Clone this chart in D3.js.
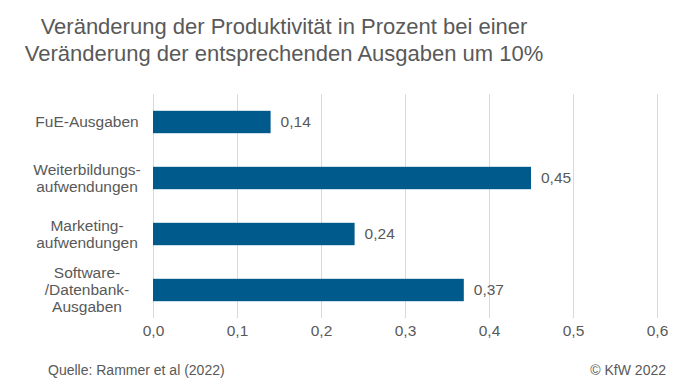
<!DOCTYPE html>
<html>
<head>
<meta charset="utf-8">
<style>
html, body { margin: 0; padding: 0; background: #fff; }
svg text { font-family: "Liberation Sans", Arial, sans-serif; fill: #595959; }
</style>
</head>
<body>
<div id="chart"></div>
<script src="https://cdn.jsdelivr.net/npm/d3@7"></script>
<script>
// data
var categories = [
  ["FuE-Ausgaben"],
  ["Weiterbildungs-", "aufwendungen"],
  ["Marketing-", "aufwendungen"],
  ["Software-", "/Datenbank-", "Ausgaben"]
];
var values = [0.14, 0.45, 0.24, 0.37];
var ticks = [0, 0.1, 0.2, 0.3, 0.4, 0.5, 0.6];
var titleLines = ["Veränderung der Produktivität in Prozent bei einer",
                  "Veränderung der entsprechenden Ausgaben um 10%"];

var W = 696, H = 392;
var svg = d3.select("#chart").append("svg").attr("width", W).attr("height", H);

var fmt = function (v, d) { return v.toFixed(d).replace(".", ","); };

var x = d3.scaleLinear().domain([0, 0.6]).range([153, 657]);
var y = d3.scaleBand().domain(d3.range(categories.length))
  .range([94, 318]).paddingInner(0.6).paddingOuter(0.3);

// title
svg.append("g").selectAll("text").data(titleLines).enter().append("text")
  .attr("x", 284).attr("y", function (d, i) { return 34 + i * 27; })
  .attr("text-anchor", "middle").style("font-size", "22px")
  .text(function (d) { return d; });

// gridlines
svg.append("g").selectAll("line").data(ticks).enter().append("line")
  .attr("x1", function (d) { return x(d); }).attr("x2", function (d) { return x(d); })
  .attr("y1", 94).attr("y2", 318)
  .attr("stroke", "#d9d9d9").attr("stroke-width", 1)
  .attr("shape-rendering", "crispEdges");

// x axis labels
var xAxis = d3.axisBottom(x).tickValues(ticks).tickSize(0).tickPadding(0)
  .tickFormat(function (d) { return fmt(d, 1); });
var ax = svg.append("g").attr("transform", "translate(0,325)").call(xAxis);
ax.select(".domain").remove();
ax.selectAll("text").style("font-size", "15.5px").attr("fill", "#595959")
  .style("font-family", "Liberation Sans, Arial, sans-serif");

// bars
svg.append("g").selectAll("rect").data(values).enter().append("rect")
  .attr("x", x(0)).attr("y", function (d, i) { return y(i); })
  .attr("width", function (d) { return x(d) - x(0); })
  .attr("height", y.bandwidth())
  .attr("fill", "#005a8c");

// value labels
svg.append("g").selectAll("text").data(values).enter().append("text")
  .attr("x", function (d) { return x(d) + 10; })
  .attr("y", function (d, i) { return y(i) + y.bandwidth() / 2; })
  .attr("dy", "0.35em").style("font-size", "15.5px")
  .text(function (d) { return fmt(d, 2); });

// category labels
var cat = svg.append("g").selectAll("text").data(categories).enter().append("text")
  .attr("text-anchor", "middle").style("font-size", "15.5px")
  .attr("y", function (d, i) {
    return y(i) + y.bandwidth() / 2 - (d.length - 1) * 8.5;
  });
cat.selectAll("tspan").data(function (d) { return d; }).enter().append("tspan")
  .attr("x", 87).attr("dy", function (d, i) { return i === 0 ? "0.35em" : 17; })
  .text(function (d) { return d; });

// footer
svg.append("text").attr("x", 48).attr("y", 375).style("font-size", "14px")
  .text("Quelle: Rammer et al (2022)");
svg.append("text").attr("x", 666).attr("y", 375).attr("text-anchor", "end")
  .style("font-size", "14px").text("© KfW 2022");
</script>
</body>
</html>
